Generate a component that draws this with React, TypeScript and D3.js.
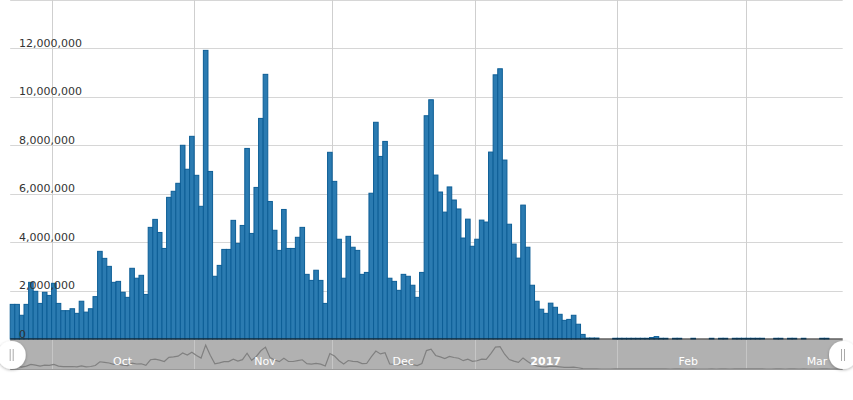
import React from "react";
import * as d3 from "d3";

// Daily values (millions), starting 2016-09-22
const startDate = new Date(Date.UTC(2016, 8, 22));
const endDate = new Date(Date.UTC(2017, 2, 22));
const values: number[] = [
  1.43, 1.43, 0.98, 1.43, 2.34, 1.97, 1.47, 1.93, 1.8, 2.3,
  1.47, 1.17, 1.17, 1.25, 1.06, 1.56, 1.11, 1.25, 1.75, 3.62,
  3.33, 3.0, 2.34, 2.38, 1.93, 1.72, 2.92, 2.51, 2.63, 1.84,
  4.61, 4.94, 4.4, 3.74, 5.85, 6.1, 6.43, 8.0, 7.01, 8.37,
  6.76, 5.48, 11.92, 6.92, 2.59, 3.04, 3.7, 3.7, 4.9, 3.95,
  4.69, 7.87, 4.36, 6.26, 9.11, 10.93, 5.68, 4.49, 3.66, 5.35,
  3.74, 3.74, 4.2, 4.61, 2.67, 2.42, 2.84, 2.42, 1.47, 7.71,
  6.51, 4.12, 2.51, 4.24, 3.79, 3.66, 2.67, 2.75, 6.02, 8.95,
  7.54, 8.16, 2.51, 2.38, 2.01, 2.67, 2.59, 2.22, 1.72, 2.75,
  9.22, 9.88, 6.77, 6.07, 5.24, 6.28, 5.74, 5.37, 4.17, 4.95,
  3.83, 4.12, 4.91, 4.83, 7.72, 10.91, 11.16, 7.39, 4.74, 3.92,
  3.34, 5.53, 3.79, 2.22, 1.56, 1.23, 1.06, 1.48, 1.31, 1.02,
  0.77, 0.81, 0.98, 0.61, 0.19, 0.04, 0.04, 0.04, 0, 0,
  0, 0.03, 0.03, 0.03, 0.03, 0.03, 0.03, 0.03, 0.03, 0.06,
  0.1, 0.03, 0.03, 0, 0.03, 0.03, 0, 0, 0.03, 0,
  0, 0, 0.03, 0, 0.03, 0.03, 0, 0.03, 0.03, 0.03,
  0.03, 0.03, 0.03, 0.03, 0, 0, 0.03, 0.03, 0, 0.03,
  0.03, 0, 0.03, 0, 0, 0, 0.03, 0.03, 0, 0,
  0,
];
const yTickValues = [0, 2e6, 4e6, 6e6, 8e6, 10e6, 12e6, 14e6];
const monthStarts = [
  new Date(Date.UTC(2016, 9, 1)),
  new Date(Date.UTC(2016, 10, 1)),
  new Date(Date.UTC(2016, 11, 1)),
  new Date(Date.UTC(2017, 0, 1)),
  new Date(Date.UTC(2017, 1, 1)),
  new Date(Date.UTC(2017, 2, 1)),
];
const monthLabels = ["Oct", "Nov", "Dec", "2017", "Feb", "Mar"];
const monthLabelBold = [false, false, false, true, false, false];

const W = 853;
const H = 400;
const PL = 10.2;
const PR = 842.7;
const PT = 0;
const PB = 339;
const NAV_TOP = 340;
const NAV_BOT = 369;
const FONT = "'DejaVu Sans', Verdana, sans-serif";

export default function App() {
  const x = d3.scaleUtc().domain([startDate, endDate]).range([PL, PR]);
  const y = d3.scaleLinear().domain([0, 14e6]).range([PB, PT]);
  const yNav = d3.scaleLinear().domain([0, 14.5e6]).range([NAV_BOT, NAV_BOT - 29]);

  const data = values.map((v, i) => ({
    d0: d3.utcDay.offset(startDate, i),
    d1: d3.utcDay.offset(startDate, i + 1),
    v: v * 1e6,
  }));

  const navLine = d3
    .line<{ d0: Date; d1: Date; v: number }>()
    .x((d) => (x(d.d0) + x(d.d1)) / 2)
    .y((d) => yNav(d.v));

  const handle = (cx: number, key: string) => (
    <g key={key}>
      <circle cx={cx} cy={355} r={14} fill="#fff" filter="url(#hshadow)" />
      <line x1={cx - 1.5} x2={cx - 1.5} y1={349} y2={361} stroke="#aaa" strokeWidth={1} />
      <line x1={cx + 1.5} x2={cx + 1.5} y1={349} y2={361} stroke="#aaa" strokeWidth={1} />
    </g>
  );

  return (
    <div style={{ position: "absolute", left: 0, top: 0 }}>
      <svg width={W} height={H} style={{ display: "block" }}>
        <defs>
          <filter id="hshadow" x="-50%" y="-50%" width="200%" height="200%">
            <feDropShadow dx="0" dy="1" stdDeviation="1.5" floodColor="#000" floodOpacity="0.3" />
          </filter>
          <clipPath id="navclip">
            <rect x={PL} y={NAV_TOP} width={PR - PL} height={NAV_BOT - NAV_TOP} />
          </clipPath>
        </defs>
        <rect x={0} y={0} width={W} height={H} fill="#fff" />

        {/* horizontal grid */}
        {yTickValues.map((t) => (
          <line
            key={"hg" + t}
            x1={PL}
            x2={PR}
            y1={Math.round(y(t)) + 0.5}
            y2={Math.round(y(t)) + 0.5}
            stroke="#d6d6d6"
            strokeWidth={1}
          />
        ))}
        {/* vertical grid */}
        {monthStarts.map((m, i) => (
          <line
            key={"vg" + i}
            x1={Math.round(x(m)) + 0.5}
            x2={Math.round(x(m)) + 0.5}
            y1={0}
            y2={PB}
            stroke="#cfcfcf"
            strokeWidth={1}
          />
        ))}

        {/* bars */}
        {data
          .filter((d) => d.v > 0)
          .map((d, i) => (
            <rect
              key={"b" + i}
              x={x(d.d0)}
              width={x(d.d1) - x(d.d0)}
              y={y(d.v)}
              height={PB - y(d.v)}
              fill="#2b7bb1"
              stroke="#0d5e96"
              strokeWidth={1}
            />
          ))}

        {/* y labels */}
        {yTickValues
          .filter((t) => y(t) > 10)
          .map((t) => (
            <text
              key={"yl" + t}
              x={19}
              y={y(t) - 1.5}
              fontFamily={FONT}
              fontSize={11}
              fill="#333"
            >
              {d3.format(",")(t)}
            </text>
          ))}

        {/* axis line */}
        <line x1={PL} x2={PR} y1={PB} y2={PB} stroke="#111" strokeWidth={1.2} />

        {/* navigator */}
        <rect x={PL} y={NAV_TOP} width={PR - PL} height={NAV_BOT - NAV_TOP} fill="#b1b1b1" />
        <line x1={PL} x2={PR} y1={NAV_BOT + 0.5} y2={NAV_BOT + 0.5} stroke="#999" strokeWidth={1} />
        {monthStarts.map((m, i) => (
          <line
            key={"nvg" + i}
            x1={Math.round(x(m)) + 0.5}
            x2={Math.round(x(m)) + 0.5}
            y1={NAV_TOP}
            y2={NAV_BOT}
            stroke="#c6c6c6"
            strokeWidth={1}
          />
        ))}
        <path
          d={navLine(data) || ""}
          fill="none"
          stroke="#808080"
          strokeWidth={1.2}
          clipPath="url(#navclip)"
        />
        {monthStarts.map((m, i) => (
          <text
            key={"ml" + i}
            x={x(d3.utcHour.offset(d3.utcDay.offset(m, 15), 10))}
            y={365}
            textAnchor="middle"
            fontFamily={FONT}
            fontSize={11}
            fontWeight={monthLabelBold[i] ? "bold" : "normal"}
            fill="#fff"
          >
            {monthLabels[i]}
          </text>
        ))}
        {handle(11.7, "hl")}
        {handle(843, "hr")}
      </svg>
    </div>
  );
}
